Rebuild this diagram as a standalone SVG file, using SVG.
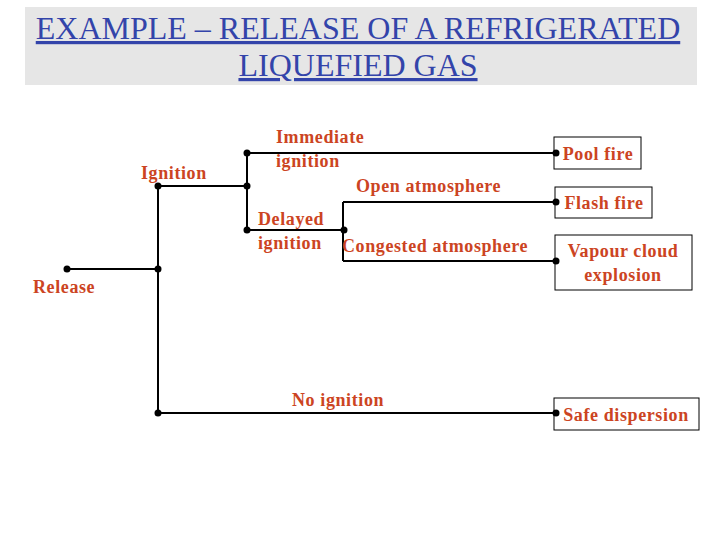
<svg xmlns="http://www.w3.org/2000/svg" width="720" height="540" viewBox="0 0 720 540">
<style>
.t{font-family:"Liberation Serif",serif;font-weight:bold;font-size:18px;letter-spacing:0.6px;fill:#cc4422}
.ttl{font-family:"Liberation Serif",serif;font-size:32px;fill:#3344aa;text-decoration:underline}
.l{stroke:#000;stroke-width:2;fill:none}
.b{stroke:#000;stroke-width:1;fill:#fff}
</style>
<rect width="720" height="540" fill="#fff"/>
<g id="title">
<rect x="25" y="7" width="672" height="78" fill="#e6e6e6"/>
<text class="ttl" x="358" y="39" text-anchor="middle">EXAMPLE – RELEASE OF A REFRIGERATED</text>
<text class="ttl" x="358" y="76" text-anchor="middle">LIQUEFIED GAS</text>
</g>
<g id="pool"><rect class="b" x="554" y="137" width="87" height="32"/><text class="t" x="598" y="160" text-anchor="middle">Pool fire</text></g>
<g id="flash"><rect class="b" x="555" y="187" width="97" height="31"/><text class="t" x="604" y="209" text-anchor="middle">Flash fire</text></g>
<g id="vce"><rect class="b" x="555" y="235" width="137" height="55"/><text class="t" x="623" y="257" text-anchor="middle">Vapour cloud</text><text class="t" x="623" y="281" text-anchor="middle">explosion</text></g>
<g id="safe"><rect class="b" x="554" y="398" width="145" height="32"/><text class="t" x="626" y="421" text-anchor="middle">Safe dispersion</text></g>
<g id="connectors">
<path class="l" d="M67 269H158M158 186V413M158 186H247M247 153V230M247 153H557M247 230H343M343 202V261M343 202H556M343 261H556M158 413H556"/>
<g fill="#000">
<circle cx="67" cy="269" r="3.5"/><circle cx="158" cy="269" r="3.5"/><circle cx="158" cy="186" r="3.5"/><circle cx="158" cy="413" r="3.5"/>
<circle cx="247" cy="186" r="3.5"/><circle cx="247" cy="153" r="3.5"/><circle cx="247" cy="230" r="3.5"/><circle cx="344" cy="230" r="3.5"/>
<circle cx="556" cy="153" r="3.5"/><circle cx="556" cy="202" r="3.5"/><circle cx="556" cy="261" r="3.5"/><circle cx="556" cy="413" r="3.5"/>
</g>
</g>
<g id="labels">
<text class="t" x="33" y="293">Release</text>
<text class="t" x="141" y="179">Ignition</text>
<text class="t" x="276" y="143">Immediate</text>
<text class="t" x="276" y="167">ignition</text>
<text class="t" x="356" y="192">Open atmosphere</text>
<text class="t" x="258" y="225">Delayed</text>
<text class="t" x="258" y="249">ignition</text>
<text class="t" x="342" y="252">Congested atmosphere</text>
<text class="t" x="292" y="406">No ignition</text>
</g>
</svg>
